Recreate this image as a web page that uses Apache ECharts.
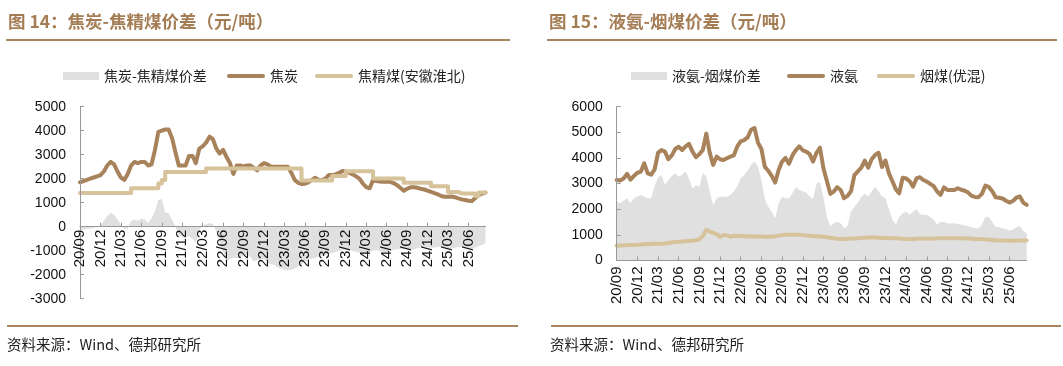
<!DOCTYPE html>
<html><head><meta charset="utf-8">
<script src="https://cdn.jsdelivr.net/npm/echarts@6/dist/echarts.min.js"></script>
<style>html,body{margin:0;padding:0;background:#fff}#c{width:1063px;height:366px}</style>
</head><body><div id="c"></div>
<script>
// ---- data (half-month points, 2020-09 .. 2025-08) ----
const tickLabels = ['20/09','20/12','21/03','21/06','21/09','21/12','22/03','22/06','22/09','22/12',
  '23/03','23/06','23/09','23/12','24/03','24/06','24/09','24/12','25/03','25/06'];

const cokeSpread = [-150,-120,-100,-70,-40,0,50,250,450,580,
 500,300,80,-100,-80,250,300,250,330,300,
 150,350,650,1100,1150,600,550,300,0,-350,
 -450,-420,-400,-500,-650,-150,50,100,150,100,
 -200,-700,-1050,-1450,-1350,-1300,-1300,-1300,-1200,-1150,
 -1250,-1450,-1400,-1350,-1350,-1500,-1550,-1600,-1680,-1750,
 -1800,-1820,-1780,-1750,-1650,-1550,-1470,-1400,-1330,-1300,
 -1250,-1200,-1190,-1150,-1100,-1050,-1000,-960,-940,-980,
 -1000,-1050,-1080,-1100,-1120,-1050,-1000,-980,-1020,-1050,
 -1050,-1000,-960,-940,-920,-910,-940,-980,-950,-900,
 -860,-840,-860,-880,-870,-850,-840,-860,-900,-910,
 -880,-850,-840,-850,-880,-910,-880,-800,-750,-700];

const coke = [1850,1900,1950,2000,2050,2100,2150,2300,2550,2700,
 2600,2300,2050,1950,2200,2550,2700,2650,2700,2700,
 2550,2600,3200,3950,4000,4050,4050,3700,3100,2550,
 2550,2550,2950,2950,2650,3250,3350,3500,3750,3650,
 3250,3050,3200,2900,2650,2200,2550,2550,2500,2550,
 2550,2450,2350,2550,2650,2600,2500,2500,2500,2500,
 2500,2500,2250,1950,1830,1780,1790,1850,1940,2040,
 1960,1940,2000,2150,2150,2180,2240,2320,2300,2250,
 2180,2100,2000,1800,1650,1600,1940,1900,1880,1870,
 1870,1870,1820,1740,1620,1500,1580,1640,1640,1620,
 1580,1550,1500,1450,1400,1350,1280,1250,1250,1260,
 1230,1180,1140,1110,1080,1070,1200,1320,1380,1420];

const cokingCoal = [1400,1400,1400,1400,1400,1400,1400,1400,1400,1400,
 1400,1400,1400,1400,1400,1600,1600,1600,1600,1600,
 1600,1600,1600,1800,1950,2280,2280,2280,2280,2280,
 2280,2280,2280,2280,2280,2280,2280,2430,2430,2430,
 2430,2430,2430,2430,2430,2430,2430,2430,2430,2430,
 2430,2430,2430,2430,2430,2430,2430,2430,2430,2430,
 2430,2430,2430,2430,2430,1920,1920,1920,1920,1920,
 1920,1920,1920,1920,2110,2110,2110,2110,2310,2310,
 2310,2310,2310,2310,2310,2310,2010,2010,2010,2010,
 2010,2010,2010,2010,2010,1830,1830,1830,1830,1830,
 1830,1830,1830,1690,1690,1690,1690,1690,1450,1450,
 1450,1380,1380,1380,1380,1380,1280,1420,1420,1420];

const ammoniaSpread = [2300,2230,2330,2430,2230,2430,2500,2560,2490,2430,
 2430,2900,3250,3340,2950,3140,3300,3400,3270,3350,
 3470,3200,2800,2950,2880,3400,3300,2700,2150,2430,
 2490,2490,2490,2560,2700,2900,3210,3340,3500,3730,
 3860,3660,3140,2400,2100,1900,1650,2230,2490,2430,
 2430,2620,2880,2750,2700,2650,2500,2400,3000,3050,
 2490,1700,1350,1450,1500,1450,1260,1350,1900,2100,
 2250,2490,2600,2500,2700,2880,2700,2500,2430,2000,
 1600,1400,1700,1840,1900,1780,1900,2000,1800,1780,
 1780,1700,1600,1400,1500,1500,1450,1440,1450,1420,
 1390,1370,1350,1300,1260,1260,1400,1700,1700,1500,
 1320,1300,1260,1220,1170,1200,1300,1350,1150,1060];

const ammonia = [3140,3120,3200,3380,3150,3300,3420,3470,3790,3400,
 3350,3550,4200,4310,4250,3950,4100,4350,4440,4310,
 4450,4550,4250,4030,4150,4310,4950,4200,3730,4050,
 3950,3920,3990,4050,4100,4450,4650,4700,4800,5100,
 5170,4600,4350,3650,3500,3300,3040,3530,3860,4000,
 3770,4100,4310,4450,4300,4250,4150,3860,4200,4400,
 3600,3100,2600,2690,2860,2750,2430,2520,2700,3330,
 3480,3620,3900,3620,3950,4120,4200,3650,3900,3400,
 3100,2780,2620,3230,3200,3100,2880,3200,3250,3140,
 3080,2990,2900,2690,2560,2850,2750,2750,2750,2820,
 2760,2720,2650,2520,2480,2470,2600,2920,2870,2700,
 2470,2450,2420,2330,2260,2320,2450,2500,2260,2170];

const steamCoal = [580,585,590,595,600,605,610,620,630,640,
 645,650,650,650,660,680,700,720,730,740,
 750,760,770,790,830,960,1200,1130,1080,1030,
 920,1000,980,920,970,960,960,950,950,940,
 940,940,940,930,930,940,940,970,990,1000,
 1000,1000,1000,1000,990,980,970,960,950,940,
 930,910,890,870,850,840,840,850,860,860,
 870,880,890,900,900,900,890,880,880,880,
 870,870,860,850,840,830,840,850,860,860,
 850,850,860,870,870,870,870,870,870,870,
 870,860,860,850,840,840,830,820,810,800,
 790,780,780,780,770,770,770,780,780,780];

// half-month categories
const cats = [];
for (let i = 0; i < cokeSpread.length; i++) {
  const m = 8 + Math.floor(i / 2);
  const y = 2020 + Math.floor(m / 12), mo = (m % 12) + 1;
  cats.push(y + '-' + String(mo).padStart(2, '0') + (i % 2 ? '-16' : '-01'));
}

// ---- styling ----
const BROWN = '#A8825A', TAN = '#D6C39B', GRAY = '#E0E0E0';
const TITLE = '#A57D55', RULE = '#A8845F';
const CJK = '"Noto Sans CJK SC", "Liberation Sans", sans-serif';
const NUM = '"Liberation Sans", Arial, sans-serif';
const CAPSULE = 'path://M5,0 H95 A5,5 0 0 1 95,10 H5 A5,5 0 0 1 5,0 Z';

function xAxis(gi, margin, offset) {
  return {
    gridIndex: gi, type: 'category', boundaryGap: false, data: cats, position: 'bottom', offset: offset, z: 6,
    axisLine: { onZero: false, lineStyle: { color: '#999', width: 1 } },
    axisTick: { show: true, inside: true, length: 4, interval: (i) => i % 6 === 0, lineStyle: { color: '#999' } },
    axisLabel: { rotate: 90, margin: margin, interval: (i) => i % 6 === 0,
      formatter: (v, i) => tickLabels[Math.round(i / 6)], fontSize: 15, fontFamily: NUM, color: '#111' },
    splitLine: { show: false }
  };
}
function yAxis(gi, min, max) {
  return {
    gridIndex: gi, type: 'value', min: min, max: max, interval: 1000, z: 6,
    axisLine: { show: true, lineStyle: { color: '#999' } },
    axisTick: { show: true, inside: true, length: 4, lineStyle: { color: '#999' } },
    axisLabel: { margin: 14, fontSize: 14, fontFamily: NUM, color: '#111', formatter: (v) => String(v) },
    splitLine: { show: false }
  };
}
function area(name, data, gi) {
  return { name, type: 'line', xAxisIndex: gi, yAxisIndex: gi, data, symbol: 'none',
    lineStyle: { width: 0 }, itemStyle: { color: GRAY }, areaStyle: { color: GRAY, opacity: 1 }, z: 1 };
}
function line(name, data, gi, color, extra) {
  return Object.assign({ name, type: 'line', xAxisIndex: gi, yAxisIndex: gi, data, symbol: 'none',
    lineStyle: { width: 4, color, cap: 'round', join: 'round' }, itemStyle: { color }, z: 3 }, extra || {});
}
const legText = { fontSize: 14, fontFamily: CJK, color: '#222' };

const option = {
  animation: false,
  textStyle: { fontFamily: CJK },
  graphic: [
    { type: 'text', left: 8, top: 13, style: { text: '图 14：焦炭-焦精煤价差（元/吨）', font: 'bold 17.5px ' + CJK, fill: TITLE } },
    { type: 'rect', shape: { x: 6, y: 39, width: 504, height: 2 }, style: { fill: RULE } },
    { type: 'rect', shape: { x: 7, y: 325, width: 511, height: 2 }, style: { fill: RULE } },
    { type: 'text', left: 7, top: 337, style: { text: '资料来源：Wind、德邦研究所', font: '14.5px ' + CJK, fill: '#222' } },
    { type: 'text', left: 549, top: 13, style: { text: '图 15：液氨-烟煤价差（元/吨）', font: 'bold 17.5px ' + CJK, fill: TITLE } },
    { type: 'rect', shape: { x: 547, y: 39, width: 510, height: 2 }, style: { fill: RULE } },
    { type: 'rect', shape: { x: 551, y: 325, width: 510, height: 2 }, style: { fill: RULE } },
    { type: 'text', left: 550, top: 337, style: { text: '资料来源：Wind、德邦研究所', font: '14.5px ' + CJK, fill: '#222' } }
  ],
  legend: [
    { left: 58, top: 64, data: ['焦炭-焦精煤价差'], icon: 'rect', itemWidth: 36, itemHeight: 8, textStyle: legText },
    { left: 222, top: 64, data: ['焦炭', '焦精煤(安徽淮北)'], icon: CAPSULE, itemWidth: 38, itemHeight: 5, itemGap: 17, textStyle: legText },
    { left: 626, top: 64, data: ['液氨-烟煤价差'], icon: 'rect', itemWidth: 36, itemHeight: 8, textStyle: legText },
    { left: 782, top: 64, data: ['液氨', '烟煤(优混)'], icon: CAPSULE, itemWidth: 38, itemHeight: 5, itemGap: 19, textStyle: legText }
  ],
  grid: [
    { left: 80, top: 106.7, width: 405.5, height: 192 },
    { left: 616.7, top: 106.7, width: 410, height: 153.8 }
  ],
  xAxis: [xAxis(0, 3, -72), xAxis(1, 6, 0)],
  yAxis: [yAxis(0, -3000, 5000), yAxis(1, 0, 6000)],
  series: [
    area('焦炭-焦精煤价差', cokeSpread, 0),
    line('焦炭', coke, 0, BROWN),
    line('焦精煤(安徽淮北)', cokingCoal, 0, TAN, { step: 'end', z: 4 }),
    area('液氨-烟煤价差', ammoniaSpread, 1),
    line('液氨', ammonia, 1, BROWN),
    line('烟煤(优混)', steamCoal, 1, TAN)
  ]
};
const chart = echarts.init(document.getElementById('c'), null, { renderer: 'canvas' });
chart.setOption(option);
</script></body></html>
